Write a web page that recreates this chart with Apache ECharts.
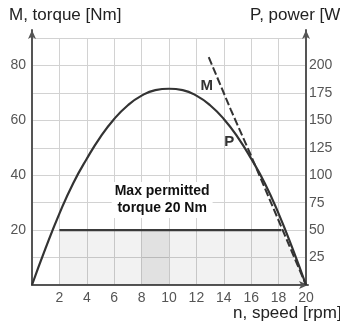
<!DOCTYPE html>
<html>
<head>
<meta charset="utf-8">
<script src="https://cdn.jsdelivr.net/npm/echarts@6/dist/echarts.min.js"></script>
<style>
  html, body { margin: 0; padding: 0; background: #fff; }
  #chart { width: 340px; height: 323px; }
</style>
</head>
<body>
<div id="chart"></div>
<script>
// speed n [rpm] vs. power curve (plotted in torque units, right axis = 2.5x)
var powerSpeed  = [0, 1, 2, 3, 4, 5, 6, 7, 8, 9, 10, 11, 12, 13, 14, 15, 16, 17, 18, 19, 20];
var powerValues = [0, 13.5, 26, 37, 46, 54, 60.5, 65.5, 69, 71, 71.5, 71, 69, 65.5, 60.5, 54, 46, 37, 26, 13.5, 0];
// torque curve M (dashed)
var torqueSpeed  = [12.9, 14.5, 16, 18, 20];
var torqueValues = [83, 64, 47, 23.5, 0];
// permitted torque region
var permittedSpeed  = [2, 2, 18.2, 20];
var permittedTorque = [0, 20, 20, 0];
var limitSpeed  = [2, 18.2];
var limitTorque = [20, 20];
var bandSpeed  = [8, 8, 10, 10];
var bandTorque = [0, 20, 20, 0];
// annotations
var curveLabels = [[12.75, 72.7, 'M'], [14.4, 52.1, 'P']];
var noteLabel = [9.5, 31, 'Max permitted\ntorque 20 Nm'];
// axis ticks
var xTicks = [2, 4, 6, 8, 10, 12, 14, 16, 18, 20];
var leftTicks = [20, 40, 60, 80];
var rightTicks = [25, 50, 75, 100, 125, 150, 175, 200];

function zip(a, b) { return a.map(function (v, i) { return [v, b[i]]; }); }

var chart = echarts.init(document.getElementById('chart'), null, { renderer: 'canvas' });
var FONT = 'Liberation Sans, Arial, sans-serif';
var AX = '#555';
var GRIDC = '#d2d2d2';

var option = {
  animation: false,
  backgroundColor: '#fff',
  grid: [
    { left: 32, right: 34, top: 38, bottom: 38 },
    { left: 32, right: 34, top: 30, bottom: 38 },
    { left: 32, right: 32, top: 38, bottom: 38 }
  ],
  xAxis: [
    {
      gridIndex: 0, type: 'value', min: 0, max: 20, interval: 2,
      axisLine: { show: false }, axisTick: { show: false },
      axisLabel: { margin: 6, color: AX, fontSize: 14, fontFamily: FONT,
        formatter: function (v) { return xTicks.indexOf(v) >= 0 ? String(v) : ''; } },
      splitLine: { show: true, lineStyle: { color: GRIDC, width: 1 } }
    },
    { gridIndex: 1, type: 'value', min: 0, max: 20, show: false },
    {
      gridIndex: 2, type: 'value', min: 0, max: 20,
      axisLine: { show: true, symbol: ['none', 'arrow'], symbolSize: [6, 9], lineStyle: { color: AX, width: 2 } },
      axisTick: { show: false }, axisLabel: { show: false }, splitLine: { show: false }
    }
  ],
  yAxis: [
    {
      gridIndex: 0, type: 'value', min: 0, max: 90, interval: 10,
      axisLine: { show: false }, axisTick: { show: false },
      axisLabel: { margin: 6, color: AX, fontSize: 14, fontFamily: FONT,
        formatter: function (v) { return leftTicks.indexOf(v) >= 0 ? String(v) : ''; } },
      splitLine: { show: true, lineStyle: { color: GRIDC, width: 1 } }
    },
    {
      gridIndex: 0, type: 'value', min: 0, max: 225, interval: 25, position: 'right',
      axisLine: { show: false }, axisTick: { show: false },
      axisLabel: { margin: 3, color: AX, fontSize: 14, fontFamily: FONT,
        formatter: function (v) { return rightTicks.indexOf(v) >= 0 ? String(v) : ''; } },
      splitLine: { show: false }
    },
    {
      gridIndex: 1, type: 'value', min: 0, max: 1, position: 'left',
      axisLine: { show: true, symbol: ['none', 'arrow'], symbolSize: [6, 9], lineStyle: { color: AX, width: 2 } },
      axisTick: { show: false }, axisLabel: { show: false }, splitLine: { show: false }
    },
    {
      gridIndex: 1, type: 'value', min: 0, max: 1, position: 'right',
      axisLine: { show: true, symbol: ['none', 'arrow'], symbolSize: [6, 9], lineStyle: { color: AX, width: 2 } },
      axisTick: { show: false }, axisLabel: { show: false }, splitLine: { show: false }
    },
    { gridIndex: 2, type: 'value', min: 0, max: 1, show: false }
  ],
  graphic: [
    { type: 'text', left: 9, top: 7, style: { text: 'M, torque [Nm]', font: '17px ' + FONT, fill: '#222' } },
    { type: 'text', left: 250, top: 7, style: { text: 'P, power [W]', font: '17px ' + FONT, fill: '#222' } },
    { type: 'text', left: 233, top: 305, style: { text: 'n, speed [rpm]', font: '17px ' + FONT, fill: '#222' } }
  ],
  series: [
    {
      type: 'line', xAxisIndex: 0, yAxisIndex: 0, data: zip(permittedSpeed, permittedTorque),
      symbol: 'none', lineStyle: { width: 0 }, areaStyle: { color: 'rgba(0,0,0,0.07)', origin: 0 }, z: 1
    },
    {
      type: 'line', xAxisIndex: 0, yAxisIndex: 0, data: zip(bandSpeed, bandTorque),
      symbol: 'none', lineStyle: { width: 0 }, areaStyle: { color: 'rgba(0,0,0,0.095)', origin: 0 }, z: 1
    },
    {
      type: 'line', xAxisIndex: 0, yAxisIndex: 0, data: zip(limitSpeed, limitTorque),
      symbol: 'none', lineStyle: { color: '#3a3a3a', width: 2.2 }, z: 3
    },
    {
      type: 'line', xAxisIndex: 0, yAxisIndex: 0, data: zip(powerSpeed, powerValues),
      smooth: true, symbol: 'none', lineStyle: { color: '#333', width: 2.2 }, z: 4
    },
    {
      type: 'line', xAxisIndex: 0, yAxisIndex: 0, data: zip(torqueSpeed, torqueValues),
      symbol: 'none', lineStyle: { color: '#333', width: 2, type: [8, 3] }, z: 4
    },
    {
      type: 'scatter', xAxisIndex: 0, yAxisIndex: 0, data: curveLabels, symbolSize: 0, z: 5,
      itemStyle: { opacity: 1 },
      label: { show: true, position: 'inside', formatter: function (p) { return p.data[2]; },
        fontSize: 15, fontWeight: 'bold', color: '#333', fontFamily: FONT }
    },
    {
      type: 'scatter', xAxisIndex: 0, yAxisIndex: 0, data: [noteLabel], symbolSize: 0, z: 5,
      itemStyle: { opacity: 1 },
      label: { show: true, position: 'inside', formatter: function (p) { return p.data[2]; },
        fontSize: 14, fontWeight: 'bold', color: '#111', fontFamily: FONT, lineHeight: 17,
        backgroundColor: '#fff', padding: [1, 3], align: 'center' }
    }
  ]
};
chart.setOption(option);
</script>
</body>
</html>
